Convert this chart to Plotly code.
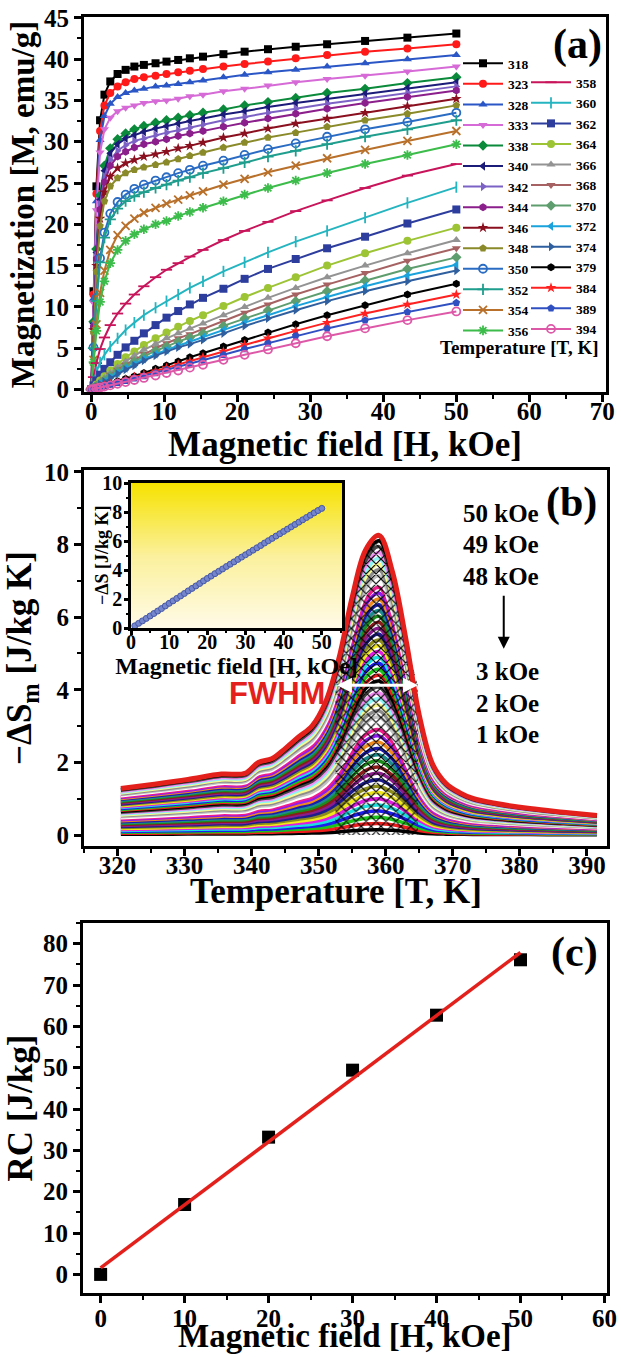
import plotly.graph_objects as go
import numpy as np

FIG_W, FIG_H = 621, 1357
SERIF = "Liberation Serif"
SANS = "Liberation Sans"

# ---------------- Panel (a): M(H) isotherms ----------------
H_FIELD = [0, 0.3, 0.7, 1.2, 1.8, 2.6, 3.6, 4.7, 5.9, 7.2, 8.8, 10.3, 11.9, 13.5,
           15.3, 18.1, 21.0, 24.2, 28.0, 32.3, 37.5, 43.3, 50.0]

M_318 = [0, 11.9, 24.6, 32.6, 35.7, 37.3, 38.2, 38.7, 39.1, 39.3, 39.5, 39.7, 39.9, 40.1, 40.3, 40.6, 40.9, 41.2, 41.5, 41.8, 42.2, 42.6, 43.1]
M_323 = [0, 11.5, 23.7, 31.3, 34.4, 35.9, 36.7, 37.2, 37.6, 37.8, 38.0, 38.2, 38.4, 38.6, 38.8, 39.1, 39.4, 39.7, 40.1, 40.5, 40.9, 41.3, 41.8]
M_328 = [0, 11.0, 22.8, 30.2, 33.1, 34.6, 35.4, 35.9, 36.2, 36.4, 36.7, 36.8, 37.0, 37.2, 37.4, 37.8, 38.1, 38.4, 38.7, 39.1, 39.5, 40.0, 40.5]
M_333 = [0, 10.5, 21.7, 28.7, 31.5, 32.9, 33.7, 34.1, 34.4, 34.7, 34.9, 35.0, 35.2, 35.5, 35.7, 36.1, 36.4, 36.8, 37.2, 37.6, 38.0, 38.5, 39.1]
M_338 = [0, 8.2, 17.0, 23.5, 27.1, 29.2, 30.3, 31.0, 31.5, 31.9, 32.3, 32.6, 32.9, 33.2, 33.5, 33.9, 34.4, 34.8, 35.3, 35.9, 36.4, 37.1, 37.8]
M_340 = [0, 8.0, 16.6, 23.0, 26.5, 28.6, 29.7, 30.4, 30.8, 31.2, 31.6, 31.9, 32.2, 32.5, 32.8, 33.3, 33.7, 34.2, 34.7, 35.2, 35.8, 36.5, 37.2]
M_342 = [0, 7.8, 16.2, 22.4, 25.8, 27.8, 28.9, 29.6, 30.1, 30.4, 30.8, 31.1, 31.4, 31.7, 32.1, 32.6, 33.0, 33.5, 34.0, 34.6, 35.2, 35.9, 36.7]
M_344 = [0, 7.6, 15.8, 21.8, 25.1, 27.1, 28.2, 28.8, 29.3, 29.7, 30.0, 30.3, 30.7, 31.0, 31.3, 31.8, 32.3, 32.8, 33.4, 34.0, 34.7, 35.4, 36.2]
M_346 = [0, 7.2, 15.0, 20.7, 23.9, 25.8, 26.8, 27.4, 27.8, 28.2, 28.5, 28.8, 29.2, 29.5, 29.9, 30.5, 31.0, 31.6, 32.2, 32.8, 33.5, 34.3, 35.2]
M_348 = [0, 6.9, 14.3, 19.8, 22.8, 24.6, 25.6, 26.2, 26.6, 26.9, 27.2, 27.5, 27.9, 28.3, 28.7, 29.3, 29.9, 30.5, 31.1, 31.8, 32.6, 33.4, 34.4]
M_350 = [0, 5.1, 11.1, 15.9, 19.0, 21.3, 22.7, 23.6, 24.3, 24.8, 25.3, 25.7, 26.2, 26.6, 27.1, 27.7, 28.4, 29.1, 29.8, 30.6, 31.5, 32.4, 33.5]
M_352 = [0, 5.0, 10.7, 15.4, 18.4, 20.6, 21.9, 22.8, 23.4, 23.9, 24.4, 24.8, 25.3, 25.7, 26.2, 26.8, 27.5, 28.2, 28.9, 29.7, 30.6, 31.5, 32.6]
M_354 = [0, 3.6, 7.9, 11.7, 14.4, 16.9, 18.7, 19.8, 20.7, 21.4, 22.0, 22.5, 23.0, 23.5, 24.0, 24.8, 25.5, 26.3, 27.1, 28.0, 29.0, 30.1, 31.3]
M_356 = [0, 3.3, 7.1, 10.6, 13.1, 15.3, 16.9, 18.0, 18.8, 19.4, 20.0, 20.4, 21.0, 21.5, 22.0, 22.8, 23.6, 24.4, 25.3, 26.2, 27.3, 28.4, 29.7]
M_358 = [0, 1.5, 3.2, 4.9, 6.3, 7.8, 9.2, 10.4, 11.5, 12.5, 13.6, 14.5, 15.3, 16.1, 16.9, 18.1, 19.2, 20.3, 21.6, 22.9, 24.4, 25.9, 27.3]
M_360 = [0, 1.0, 2.1, 3.3, 4.2, 5.2, 6.2, 7.2, 8.1, 9.0, 9.9, 10.7, 11.5, 12.3, 13.1, 14.3, 15.4, 16.6, 17.9, 19.2, 20.8, 22.6, 24.5]
M_362 = [0, 0.5, 1.1, 1.8, 2.5, 3.3, 4.2, 5.1, 5.9, 6.8, 7.8, 8.7, 9.5, 10.3, 11.1, 12.2, 13.4, 14.6, 15.8, 17.1, 18.5, 20.1, 21.8]
M_364 = [0, 0.25, 0.6, 1.1, 1.6, 2.3, 3.1, 3.9, 4.6, 5.4, 6.2, 6.9, 7.6, 8.3, 9.0, 10.1, 11.2, 12.3, 13.6, 15.0, 16.5, 18.0, 19.6]
M_366 = [0, 0.2, 0.5, 0.9, 1.4, 2.0, 2.7, 3.4, 4.1, 4.8, 5.5, 6.2, 6.8, 7.4, 8.0, 9.0, 10.0, 11.1, 12.3, 13.6, 15.0, 16.5, 18.1]
M_368 = [0, 0.2, 0.45, 0.8, 1.2, 1.8, 2.4, 3.0, 3.6, 4.3, 5.0, 5.6, 6.2, 6.7, 7.3, 8.3, 9.3, 10.3, 11.5, 12.7, 14.1, 15.6, 17.1]
M_370 = [0, 0.18, 0.4, 0.75, 1.1, 1.6, 2.2, 2.8, 3.4, 4.0, 4.7, 5.2, 5.8, 6.3, 6.8, 7.7, 8.6, 9.6, 10.7, 11.9, 13.2, 14.6, 16.0]
M_372 = [0, 0.16, 0.37, 0.7, 1.0, 1.5, 2.0, 2.6, 3.1, 3.7, 4.3, 4.8, 5.3, 5.8, 6.3, 7.2, 8.1, 9.0, 10.1, 11.2, 12.5, 13.8, 15.1]
M_374 = [0, 0.15, 0.35, 0.65, 0.95, 1.4, 1.9, 2.4, 2.9, 3.5, 4.1, 4.6, 5.1, 5.5, 6.0, 6.8, 7.7, 8.6, 9.6, 10.7, 11.9, 13.1, 14.4]
M_379 = [0, 0.08, 0.2, 0.33, 0.5, 0.7, 1.0, 1.3, 1.6, 2.0, 2.5, 2.9, 3.4, 3.9, 4.4, 5.2, 6.0, 6.9, 7.9, 9.0, 10.2, 11.5, 12.8]
M_384 = [0, 0.07, 0.17, 0.3, 0.45, 0.65, 0.9, 1.2, 1.5, 1.8, 2.2, 2.6, 3.0, 3.4, 3.9, 4.6, 5.4, 6.2, 7.1, 8.1, 9.2, 10.3, 11.5]
M_389 = [0, 0.06, 0.15, 0.27, 0.4, 0.6, 0.82, 1.07, 1.35, 1.65, 2.0, 2.35, 2.7, 3.1, 3.5, 4.2, 4.9, 5.6, 6.5, 7.4, 8.4, 9.4, 10.5]
M_394 = [0, 0.06, 0.13, 0.23, 0.35, 0.5, 0.7, 0.9, 1.15, 1.4, 1.7, 2.0, 2.3, 2.65, 3.0, 3.6, 4.2, 4.85, 5.6, 6.45, 7.4, 8.4, 9.45]

TEMPS_A = [318, 323, 328, 333, 338, 340, 342, 344, 346, 348, 350, 352, 354, 356,
           358, 360, 362, 364, 366, 368, 370, 372, 374, 379, 384, 389, 394]
M_CURVES = [M_318, M_323, M_328, M_333, M_338, M_340, M_342, M_344, M_346, M_348,
            M_350, M_352, M_354, M_356, M_358, M_360, M_362, M_364, M_366, M_368,
            M_370, M_372, M_374, M_379, M_384, M_389, M_394]
COLORS_A = ['#000000', '#ff1a1a', '#2b57c6', '#d66ad6', '#0a8a3a', '#1b1b7a', '#7d62c6',
            '#8b1f8b', '#8a0f1f', '#8a8a2a', '#2a6cc4', '#1f9e8e', '#b8702a', '#3cbc4a',
            '#c8145a', '#25b5c0', '#2d3d9e', '#9cc434', '#939393', '#a66262', '#5e9e6e',
            '#1aa2dc', '#2f5f9f', '#000000', '#ff2020', '#3050c2', '#de58a8']
SYMBOLS_A = ['square', 'circle', 'triangle-up', 'triangle-down', 'diamond', 'triangle-left',
             'triangle-right', 'hexagon', 'star', 'pentagon', 'circle-open', 'cross-thin',
             'x-thin', 'asterisk', 'line-ew', 'line-ns', 'square', 'circle', 'triangle-up',
             'triangle-down', 'diamond', 'triangle-left', 'triangle-right', 'hexagon',
             'star', 'pentagon', 'circle-open']

# ---------------- Panel (b): -dS_m(T) for 1..50 kOe ----------------
T_MID = [320.5, 325.5, 330.5, 335.5, 339, 341, 343, 345, 347, 349, 351, 353, 355, 357,
         359, 361, 363, 365, 367, 369, 371, 373, 376.5, 381.5, 386.5, 391.5]
DS_50KOE = [1.28, 1.40, 1.53, 1.68, 1.70, 2.00, 2.10, 2.38, 2.70, 3.00, 3.65, 4.85, 6.55,
            7.85, 8.25, 7.25, 5.40, 3.30, 1.95, 1.42, 1.17, 1.01, 0.87, 0.73, 0.63, 0.54]
FIELDS_B = list(range(1, 51))
DS_PEAK = [0.15, 0.32, 0.49, 0.66, 0.83, 1.00, 1.17, 1.34, 1.52, 1.70,
           1.87, 2.04, 2.21, 2.38, 2.56, 2.73, 2.90, 3.07, 3.25, 3.42,
           3.58, 3.75, 3.91, 4.07, 4.24, 4.40, 4.56, 4.73, 4.89, 5.05,
           5.21, 5.37, 5.53, 5.69, 5.86, 6.02, 6.18, 6.34, 6.50, 6.66,
           6.82, 6.98, 7.14, 7.30, 7.46, 7.62, 7.78, 7.94, 8.10, 8.25]
FWHM_T = [352.5, 364.8]
ORIGIN_PALETTE = ['#000000', '#ee1c1c', '#1cc41c', '#1c1cee', '#1ce0e0', '#e01ce0',
                  '#f0e81c', '#8c8c1c', '#1c1c8c', '#8c1c8c', '#8c1c1c', '#1c8c1c',
                  '#1c8c8c', '#1c1cac', '#f08c1c', '#8c1cf0', '#f01c8c', '#ffffff',
                  '#c4c4c4', '#8c8c8c', '#fafa8c', '#8cf5f5', '#f58cf5', '#474747']

# ---------------- Panel (c): RC vs H ----------------
RC_FIELD = [0, 10, 20, 30, 40, 50]
RC_VALUE = [0.0, 16.9, 33.2, 49.4, 62.7, 76.1]


def px_x(p):
    return p / FIG_W


def px_y(p):
    return 1 - p / FIG_H


fig = go.Figure()

# (a)
for t, m, c, s in zip(TEMPS_A, M_CURVES, COLORS_A, SYMBOLS_A):
    thin = s.endswith('-open') or s in ('cross-thin', 'x-thin', 'asterisk', 'line-ew', 'line-ns')
    fig.add_trace(go.Scatter(
        x=H_FIELD, y=m, mode='lines+markers', name=str(t),
        line=dict(color=c, width=2),
        marker=dict(symbol=s, size=8, color=c, line=dict(color=c, width=1.8 if thin else 0)),
        legend='legend' if t < 358 else 'legend2',
        xaxis='x', yaxis='y'))

# (b) colored curves
ref_peak = DS_PEAK[-1]
for k, (hk, pk) in enumerate(zip(FIELDS_B, DS_PEAK)):
    if hk == 50:
        continue
    ys = [v * pk / ref_peak for v in DS_50KOE]
    fig.add_trace(go.Scatter(
        x=T_MID, y=ys, mode='lines', line=dict(color=ORIGIN_PALETTE[k % 24], width=3.5, shape='spline'),
        showlegend=False, xaxis='x2', yaxis='y2', hoverinfo='skip'))

# (b) hatched FWHM region under the 50 kOe curve
half = max(DS_50KOE) / 2
hx = [FWHM_T[0]] + [t for t in T_MID if FWHM_T[0] < t < FWHM_T[1]] + [FWHM_T[1]]
hy = [half] + [v for t, v in zip(T_MID, DS_50KOE) if FWHM_T[0] < t < FWHM_T[1]] + [half]
fig.add_trace(go.Scatter(
    x=hx, y=hy, mode='lines', line=dict(width=0, shape='spline'), fill='tozeroy',
    fillcolor='rgba(0,0,0,0)',
    fillpattern=dict(shape='x', fgcolor='#000000', bgcolor='rgba(0,0,0,0)', size=7, solidity=0.3),
    showlegend=False, xaxis='x2', yaxis='y2', hoverinfo='skip'))

# (b) 50 kOe envelope
fig.add_trace(go.Scatter(
    x=T_MID, y=DS_50KOE, mode='lines', line=dict(color='#e3201b', width=5, shape='spline'),
    showlegend=False, xaxis='x2', yaxis='y2'))

# inset background gradient
fig.add_trace(go.Heatmap(
    x=[0, 55.3], y=[0, 10], z=[[0, 0], [1, 1]], zsmooth='best', showscale=False,
    colorscale=[[0, '#fffbe8'], [0.5, '#fbf09c'], [1, '#f6e200']],
    xaxis='x4', yaxis='y4', hoverinfo='skip'))
fig.add_trace(go.Scatter(
    x=FIELDS_B, y=DS_PEAK, mode='lines+markers',
    line=dict(color='#4a5fb0', width=1.5),
    marker=dict(symbol='circle', size=6, color='#7586cc', line=dict(color='#4557a8', width=1)),
    showlegend=False, xaxis='x4', yaxis='y4'))

# (c)
slope, intercept = np.polyfit(RC_FIELD, RC_VALUE, 1)
fit_x = [RC_FIELD[0], RC_FIELD[-1]]
fig.add_trace(go.Scatter(
    x=RC_FIELD, y=RC_VALUE, mode='markers',
    marker=dict(symbol='square', size=13, color='black'),
    showlegend=False, xaxis='x3', yaxis='y3'))
fig.add_trace(go.Scatter(
    x=fit_x, y=[slope * v + intercept for v in fit_x], mode='lines',
    line=dict(color='#e3201b', width=3.5),
    showlegend=False, xaxis='x3', yaxis='y3'))

TICKFONT = dict(family=SERIF, size=25, color='black', weight='bold')
TITLEFONT = dict(family=SERIF, size=35, color='black', weight='bold')


def axis(domain, rng, dtick, minor_dtick, anchor, title=None, titlefont=TITLEFONT,
         tickfont=TICKFONT, standoff=4, lw=3, ticklen=7, labelshift=0):
    d = dict(domain=domain, range=rng, anchor=anchor, dtick=dtick, tick0=0,
             automargin=False, ticklabelstandoff=labelshift,
             showline=True, linewidth=lw, linecolor='black', mirror=True,
             ticks='outside', ticklen=ticklen, tickwidth=2.5, tickcolor='black',
             showgrid=False, zeroline=False, tickfont=tickfont,
             minor=dict(dtick=minor_dtick, ticks='outside', ticklen=ticklen * 0.6,
                        tickwidth=2, tickcolor='black', showgrid=False))
    if title:
        d['title'] = dict(text=title, font=titlefont, standoff=standoff)
    return d


A_X = [px_x(84), px_x(606)]
A_Y = [px_y(392), px_y(17)]
B_X = [px_x(84), px_x(607)]
B_Y = [px_y(846), px_y(470)]
C_X = [px_x(83), px_x(607)]
C_Y = [px_y(1293), px_y(923)]
I_X = [px_x(131), px_x(342)]
I_Y = [px_y(628), px_y(483)]

LEGFONT = dict(family=SERIF, size=13.5, color='black', weight='bold')
INSET_TICK = dict(family=SERIF, size=20, color='black', weight='bold')

fig.update_layout(
    template='none',
    width=FIG_W, height=FIG_H,
    margin=dict(l=0, r=0, t=0, b=0, autoexpand=False),
    paper_bgcolor='white', plot_bgcolor='white',
    xaxis=axis(A_X, [-1, 70.5], 10, 5, 'y', 'Magnetic field [H, kOe]', standoff=0, labelshift=-12),
    yaxis=axis(A_Y, [-0.3, 45.1], 5, 2.5, 'x', 'Magnetization [M, emu/g]',
               titlefont=dict(family=SERIF, size=33, color='black', weight='bold'), standoff=0),
    xaxis2=axis(B_X, [315, 393], 10, 5, 'y2', labelshift=-12),
    yaxis2=axis(B_Y, [-0.3, 10.05], 2, 1, 'x2', '\u2212\u0394S<sub>m</sub> [J/kg K]', standoff=2),
    xaxis3=axis(C_X, [-2.1, 60.3], 10, 5, 'y3', labelshift=-6),
    yaxis3=axis(C_Y, [-4.5, 85], 10, 5, 'x3', 'RC [J/kg]', standoff=0),
    xaxis4=axis(I_X, [0, 55.3], 10, 5, 'y4', 'Magnetic field [H, kOe]',
                titlefont=dict(family=SERIF, size=24, color='black', weight='bold'),
                tickfont=INSET_TICK, standoff=0, lw=2.5, ticklen=4, labelshift=-10),
    yaxis4=axis(I_Y, [0, 10], 2, 1, 'x4', tickfont=INSET_TICK, lw=2.5, ticklen=4, labelshift=-2),
    legend=dict(x=px_x(458), y=px_y(48), xanchor='left', yanchor='top',
                bgcolor='rgba(0,0,0,0)', borderwidth=0, font=LEGFONT,
                itemwidth=40, tracegroupgap=0, traceorder='normal'),
    legend2=dict(x=px_x(526), y=px_y(67), xanchor='left', yanchor='top',
                 bgcolor='rgba(0,0,0,0)', borderwidth=0, font=LEGFONT,
                 itemwidth=40, tracegroupgap=0, traceorder='normal'),
)

ann = []
bold = lambda size, fam=SERIF, color='black': dict(family=fam, size=size, color=color, weight='bold')


def paper_text(txt, xp, yp, size, xanchor='center', angle=0):
    return dict(text=txt, x=px_x(xp), y=px_y(yp), xref='paper', yref='paper',
                xanchor=xanchor, yanchor='middle', textangle=angle,
                showarrow=False, font=bold(size))


ann.append(paper_text('(a)', 577, 45, 42))
ann.append(paper_text('(b)', 571, 503, 42))
ann.append(paper_text('(c)', 574, 952, 42))
ann.append(paper_text('Temperature [T, K]', 601, 348, 19, xanchor='right'))
ann.append(paper_text('Temperature [T, K]', 336, 891, 35))
ann.append(paper_text('Magnetic field [H, kOe]', 345, 1336, 33))
ann.append(paper_text('\u2212\u0394S [J/kg K]', 102, 555, 18, angle=-90))
for txt, yv in [('50 kOe', 8.86), ('49 kOe', 7.99), ('48 kOe', 7.13),
                ('3 kOe', 4.50), ('2 kOe', 3.63), ('1 kOe', 2.77)]:
    ann.append(dict(text=txt, x=383.1, y=yv, xref='x2', yref='y2', xanchor='right',
                    yanchor='middle', showarrow=False, font=bold(25)))
ann.append(dict(text='', x=377.6, y=5.13, ax=377.6, ay=6.63, xref='x2', yref='y2',
                axref='x2', ayref='y2', showarrow=True, arrowhead=2, arrowsize=1.2,
                arrowwidth=2, arrowcolor='black'))
ann.append(dict(text='FWHM', x=343.8, y=3.91, xref='x2', yref='y2', showarrow=False,
                xanchor='center', yanchor='middle', font=bold(31, SANS, '#e3201b')))
ann.append(dict(text='', x=FWHM_T[1], y=half, ax=FWHM_T[0], ay=half, xref='x2', yref='y2',
                axref='x2', ayref='y2', showarrow=True, arrowhead=2, arrowside='end+start',
                arrowsize=1.0, arrowwidth=3, arrowcolor='white'))
fig.update_layout(annotations=ann)

fig.write_html("out.html", config={'displayModeBar': False},
               post_script="document.body.style.margin='0px';")
